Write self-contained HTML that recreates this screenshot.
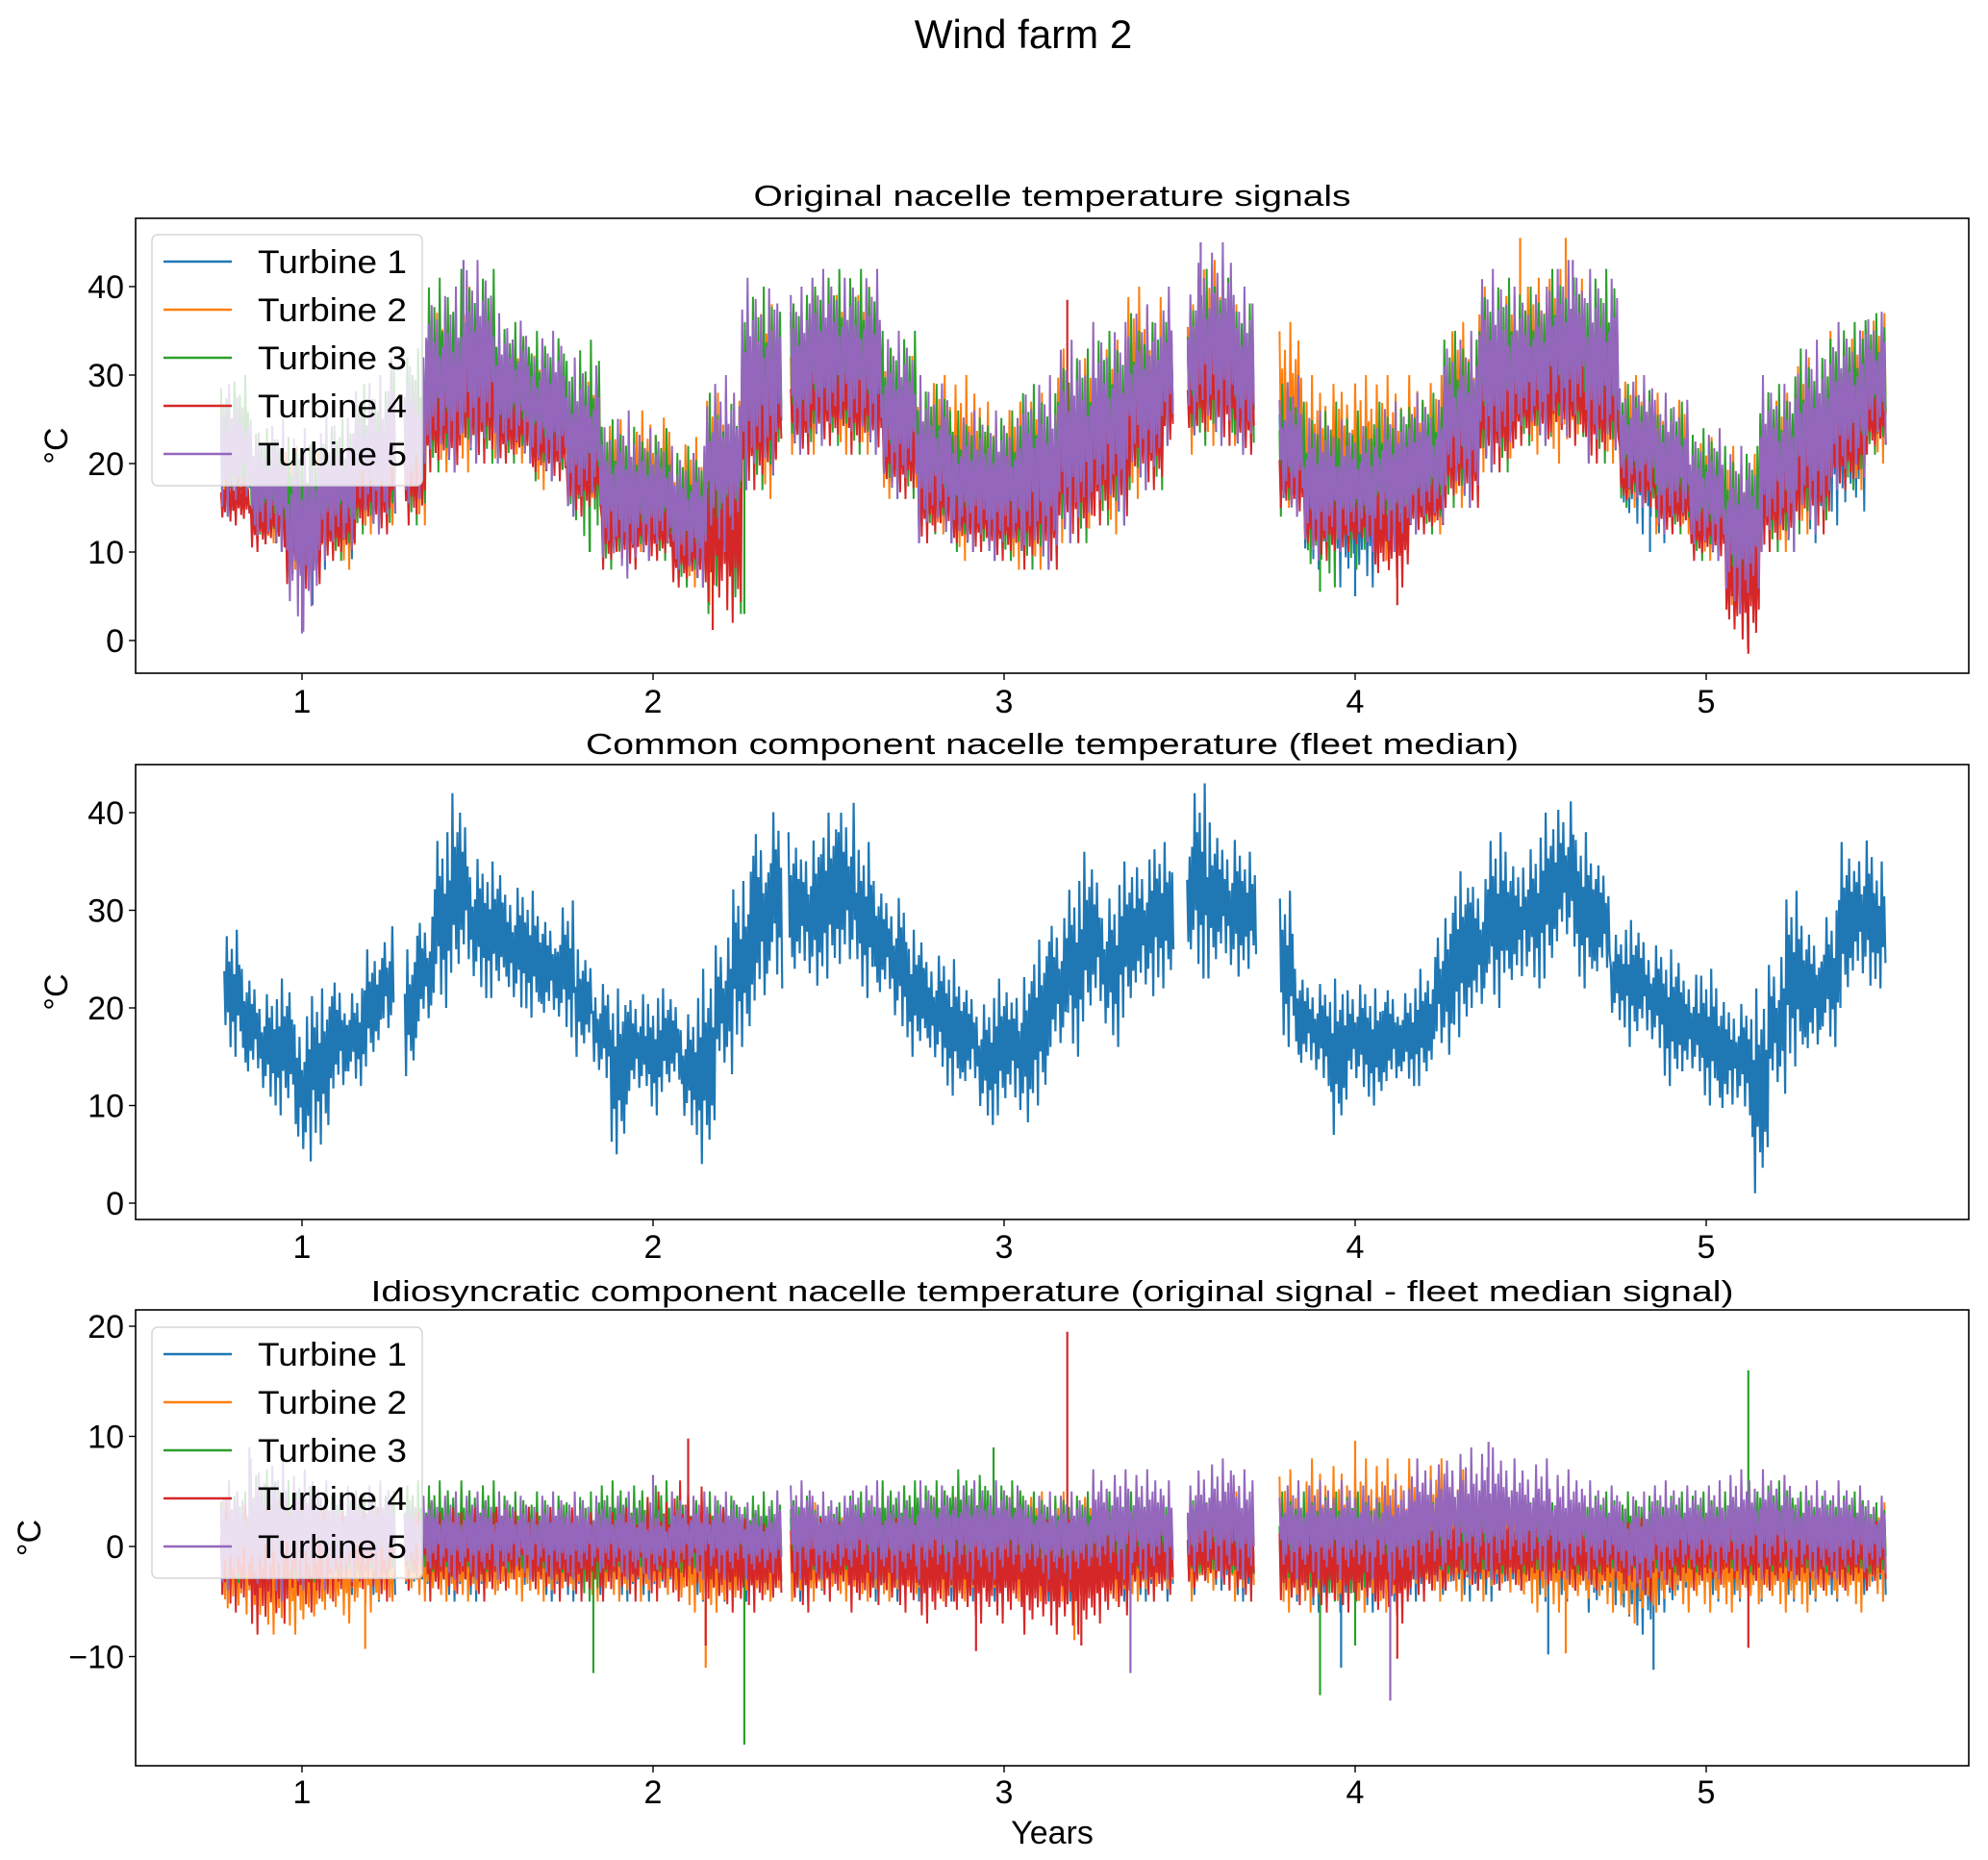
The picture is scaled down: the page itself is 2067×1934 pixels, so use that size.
<!DOCTYPE html>
<html><head><meta charset="utf-8"><style>
html,body{margin:0;padding:0;background:#fff;}
svg{display:block;font-family:"Liberation Sans","DejaVu Sans",sans-serif;}
</style></head><body>
<svg id="fig" width="2067" height="1934" viewBox="0 0 2067 1934" xmlns="http://www.w3.org/2000/svg">
<rect width="2067" height="1934" fill="#fff"/>
<text x="1064" y="50" font-size="42" text-anchor="middle">Wind farm 2</text>
<g id="p1"></g>
<g id="p2"></g>
<g id="p3"></g>
</svg>
<script>
// ---------- data ----------
const TIMES10 = [0.8,0.9,1.0,1.1,1.2,1.3,1.4,1.5,1.6,1.7,1.8,1.9,2.0,2.1,2.2,2.3,2.4,2.5,2.6,2.7,2.8,2.9,3.0,3.1,3.2,3.3,3.4,3.5,3.6,3.7,3.8,3.9,4.0,4.1,4.2,4.3,4.4,4.5,4.6,4.7,4.8,4.9,5.0,5.1,5.2,5.3,5.4,5.5];
const GAPS = [[1.262,1.29],[2.365,2.385],[3.48,3.52],[3.715,3.78]];
const DATA_START = 0.765, DATA_END = 5.51;
const SERIES_NAMES = ["Turbine 1","Turbine 2","Turbine 3","Turbine 4","Turbine 5"];
const COLORS = ["#1f77b4","#ff7f0e","#2ca02c","#d62728","#9467bd"];

// Panel 1: original signals
const orig1Hi = [27,23,22,24,28,31,38,40,35,33,30,24,22,20,28,39,38,40,40,33,28,24,24,28,32,34,36,38,43,38,28,24,23,25,26,33,40,38,41,40,28,26,22,20,28,32,34,36];
const orig1Lo = [14,10,5,8,12,13,19,20,20,18,14,8,9,6,9,17,21,22,21,16,11,10,9,8,11,13,17,22,22,21,14,8,6,10,12,15,19,22,23,20,12,11,9,4,10,11,13,21];
const orig2Hi = [27,22,22,22,25,30,38,40,34,33,30,25,26,23,28,38,38,40,40,33,30,30,27,28,33,34,40,38,43,38,36,30,30,30,30,36,40,41,42,38,30,28,23,22,28,32,35,37];
const orig2Lo = [14,11,8,8,12,13,19,19,20,17,15,10,10,6,10,16,21,21,21,16,12,9,8,8,11,12,16,21,22,22,15,10,11,9,12,15,19,21,20,20,15,12,9,4,10,12,17,20];
const orig3Hi = [30,24,23,25,29,33,41,42,36,35,34,25,24,22,28,40,40,42,42,35,29,26,26,29,33,35,37,39,42,39,29,27,26,27,28,35,41,40,42,42,29,27,24,22,29,33,36,37];
const orig3Lo = [15,11,7,9,12,13,19,20,20,18,10,8,9,6,3,17,21,22,21,16,12,10,9,8,11,13,17,22,22,21,14,6,8,10,12,15,19,22,23,20,15,12,9,4,10,12,17,21];
const orig4Hi = [19,17,16,17,21,23,30,33,28,26,23,17,16,14,21,31,30,32,32,26,21,18,18,21,25,27,29,31,35,31,22,18,17,19,19,26,31,32,34,32,22,19,16,14,21,25,27,29];
const orig4Lo = [13,10,5,9,12,13,19,20,20,18,14,8,9,6,2,17,21,22,21,16,11,10,9,8,11,13,17,22,22,21,14,9,10,6,12,15,19,22,22,20,15,12,9,-1,10,12,17,21];
const orig5Hi = [29,25,24,26,30,33,40,43,37,35,32,26,24,22,30,41,40,42,42,35,30,26,26,30,34,36,38,40,45,40,30,26,25,27,28,35,42,40,43,42,30,28,24,22,30,34,36,38];
const orig5Lo = [14,10,1,9,12,13,19,20,20,18,14,7,9,6,10,17,21,22,21,16,11,10,9,8,11,13,17,22,22,21,14,9,10,10,12,15,19,22,23,20,15,12,9,3,10,12,17,21];
const origHi = [orig1Hi,orig2Hi,orig3Hi,orig4Hi,orig5Hi];
const origLo = [orig1Lo,orig2Lo,orig3Lo,orig4Lo,orig5Lo];
const origSpikeT = [[1.03,4.0,4.84],[4.47,4.6,2.16],[2.26,1.82,3.9],[3.18,5.12,2.17,4.12],[1.0,3.56,1.46,4.62]];
const origSpikeV = [[4,5,10],[45.5,45.5,4],[3,10,5.5],[38.5,-1.5,1.2,4],[0.8,45,43,43]];

// Panel 2: fleet median
const TIMES05 = [0.8,0.85,0.9,0.95,1.0,1.05,1.1,1.15,1.2,1.25,1.3,1.35,1.4,1.45,1.5,1.55,1.6,1.65,1.7,1.75,1.8,1.85,1.9,1.95,2.0,2.05,2.1,2.15,2.2,2.25,2.3,2.35,2.4,2.45,2.5,2.55,2.6,2.65,2.7,2.75,2.8,2.85,2.9,2.95,3.0,3.05,3.1,3.15,3.2,3.25,3.3,3.35,3.4,3.45,3.5,3.55,3.6,3.65,3.7,3.75,3.8,3.85,3.9,3.95,4.0,4.05,4.1,4.15,4.2,4.25,4.3,4.35,4.4,4.45,4.5,4.55,4.6,4.65,4.7,4.75,4.8,4.85,4.9,4.95,5.0,5.05,5.1,5.15,5.2,5.25,5.3,5.35,5.4,5.45,5.5];
const medHi = [28,24,22,23,20,22,24,22,26,29,26,30,38,42,36,35,33,32,30,31,26,23,22,22,21,22,20,24,28,33,40,41,38,38,40,42,37,33,32,28,26,25,23,21,23,24,27,30,33,36,32,35,36,37,38,43,39,38,36,32,32,24,23,23,23,22,23,22,24,30,34,34,38,36,37,40,42,38,36,28,29,27,26,24,24,22,21,22,26,32,29,30,37,38,35];
const medLo = [15,12,10,9,3,6,10,12,14,16,13,17,20,22,21,21,19,19,18,17,15,12,5,10,9,11,7,4,12,16,18,22,22,21,23,22,21,20,17,15,13,11,11,8,9,7,10,14,15,18,16,19,20,22,23,23,23,22,24,16,16,13,12,7,11,10,11,12,12,14,17,18,20,21,22,23,25,22,22,18,16,15,12,12,10,8,9,1,10,14,14,16,20,21,22];

// Panel 3: idiosyncratic component
const idio1Hi = [3,3,3,3,3,3,3,3,3,3,3,3,3,3,3,3,3,3,3,3,3,3,3,3,3,3,3,3,3,3,3,3,3,3,3,3,3,3,3,3,3,3,3,3,3,3,3,3];
const idio1Lo = [-5,-5,-5,-5,-5,-5,-5,-5,-4,-5,-5,-5,-5,-5,-5,-5,-5,-4,-5,-5,-5,-5,-5,-5,-5,-5,-5,-5,-4,-5,-5,-6,-6,-5,-5,-5,-5,-5,-5,-6,-8,-6,-5,-5,-5,-5,-5,-5];
const idio2Hi = [4,4,3,3,3,3,3,3,3,3,3,3,3,3,3,3,3,4,4,4,5,5,5,5,5,4,4,4,5,5,7,8,8,8,8,7,6,5,4,4,4,4,4,4,4,4,4,4];
const idio2Lo = [-7,-8,-8,-7,-6,-5,-5,-5,-5,-5,-5,-5,-5,-6,-6,-5,-5,-5,-5,-5,-5,-5,-5,-5,-5,-5,-5,-5,-4,-5,-6,-6,-6,-6,-5,-5,-5,-6,-6,-6,-7,-6,-6,-6,-6,-6,-6,-5];
const idio3Hi = [5,7,6,5,5,6,6,6,5,5,5,6,6,5,5,5,5,4,5,6,6,7,6,5,5,5,5,5,4,4,5,5,5,4,4,4,4,4,4,5,5,5,5,5,6,5,5,4];
const idio3Lo = [-4,-4,-4,-3,-3,-3,-3,-3,-3,-3,-5,-3,-3,-3,-3,-3,-3,-3,-3,-3,-3,-3,-3,-3,-3,-3,-3,-3,-3,-3,-4,-5,-5,-4,-3,-3,-3,-3,-3,-3,-3,-3,-3,-3,-3,-3,-3,-3];
const idio4Hi = [5,5,4,4,4,4,4,4,4,4,4,4,5,6,4,3,3,3,3,3,3,3,3,3,3,3,3,3,3,3,3,3,3,3,3,3,3,3,3,3,3,3,3,3,3,3,3,3];
const idio4Lo = [-6,-8,-6,-5,-5,-4,-5,-5,-4,-5,-5,-5,-5,-5,-6,-6,-6,-5,-6,-6,-7,-7,-7,-8,-8,-7,-5,-5,-4,-5,-6,-6,-6,-7,-5,-4,-4,-4,-4,-4,-5,-4,-4,-4,-4,-4,-4,-4];
const idio5Hi = [6,8,7,6,6,5,5,5,5,5,5,5,4,5,5,4,6,5,6,5,6,6,6,5,5,7,7,6,8,7,6,6,6,6,8,9,9,8,7,6,5,6,6,7,7,6,6,5];
const idio5Lo = [-4,-5,-4,-4,-3,-3,-3,-3,-3,-3,-3,-3,-3,-3,-3,-3,-3,-3,-3,-3,-3,-3,-3,-3,-3,-3,-3,-3,-3,-3,-3,-3,-3,-3,-3,-3,-3,-3,-3,-3,-4,-3,-3,-3,-3,-3,-3,-3];
const idioHi = [idio1Hi,idio2Hi,idio3Hi,idio4Hi,idio5Hi];
const idioLo = [idio1Lo,idio2Lo,idio3Lo,idio4Lo,idio5Lo];
const idioSpikeT = [[4.85,3.96,4.55],[4.0,2.15,1.18,4.6,3.2],[2.26,1.83,3.9,5.12,2.97,4.0],[3.18,2.1,2.15,2.92,3.22,4.12,5.12],[3.36,4.1,4.38,0.85,2.0]];
const idioSpikeV = [[-11.2,-11,-9.8],[9.6,-11,-9.3,-9.7,-8.5],[-18,-11.5,-13.5,16,9,-9],[19.5,9.8,-9,-9.5,-9,-10.2,-9.2],[-11.5,-14,9.5,9,6.5]];

const p1Ticks = [0,10,20,30,40];
const p2Ticks = [0,10,20,30,40];
const p3Ticks = [-10,0,10,20];
const xTicks = [1,2,3,4,5];

// ---------- layout ----------
const NS = "http://www.w3.org/2000/svg";
const AX_L = 141, AX_R = 2047;
const X0 = 314, XPY = 365;
const xs = t => X0 + (t - 1) * XPY;
const panels = [
  {g:'p1', top:227, bot:700, y0:666, ppu:9.2, title:"Original nacelle temperature signals", ty:214, tl:621, ticks:p1Ticks, ylx:58, xl:729},
  {g:'p2', top:795, bot:1268, y0:1251, ppu:10.15, title:"Common component nacelle temperature (fleet median)", ty:784, tl:970, ticks:p2Ticks, ylx:58, xl:1296},
  {g:'p3', top:1362, bot:1836, y0:1608, ppu:11.45, title:"Idiosyncratic component nacelle temperature (original signal - fleet median signal)", ty:1353, tl:1417, ticks:p3Ticks, ylx:30, xl:1863}
];
const UP = [0.35,0.9,0.5,0.7,0.3,1.0,0.45,0.6,0.8,0.4,0.65,0.25];
const DN = [0.5,0.3,0.85,0.45,1.0,0.35,0.6,0.75,0.4,0.55,0.2,0.7];

function mk(tag, attrs, parent){ const e=document.createElementNS(NS,tag); for(const k in attrs) e.setAttribute(k,attrs[k]); parent.appendChild(e); return e; }
function inGap(t){ for(const g of GAPS) if(t>g[0] && t<g[1]) return true; return t<DATA_START || t>DATA_END; }

function seriesPath(times, hi, lo, win, n, off, ys){
  let d='', pen=false;
  for(let i=0;i<times.length;i++){
    const c=(hi[i]+lo[i])/2;
    for(let j=0;j<n;j++){
      const t=times[i]-win/2+(j+0.5)*win/n;
      if(inGap(t)){ pen=false; continue; }
      const k=(j+off+i*5)%UP.length;
      const yu=ys(c+UP[k]*(hi[i]-c)), yd=ys(c-DN[k]*(c-lo[i]));
      const x1=xs(t), x2=xs(t+win/n/2);
      d += (pen?'L':'M') + x1.toFixed(1)+','+yu.toFixed(1)+'L'+x2.toFixed(1)+','+yd.toFixed(1);
      pen=true;
    }
  }
  return d;
}

panels.forEach((P, pi) => {
  const g = document.getElementById(P.g);
  const ys = v => P.y0 - v*P.ppu;
  const clipId='clip'+pi;
  const cp = mk('clipPath',{id:clipId},g);
  mk('rect',{x:AX_L,y:P.top,width:AX_R-AX_L,height:P.bot-P.top},cp);
  const plot = mk('g',{'clip-path':'url(#'+clipId+')'},g);
  
  

  if(pi===1){
    const p = mk('path',{d:seriesPath(TIMES05,medHi,medLo,0.05,7,0,ys),fill:'none',stroke:COLORS[0],'stroke-width':2.2,'stroke-linejoin':'miter'},plot);
    
    
  } else {
    const HI = pi===0?origHi:idioHi, LO = pi===0?origLo:idioLo;
    const ST = pi===0?origSpikeT:idioSpikeT, SV = pi===0?origSpikeV:idioSpikeV;
    for(let s=0;s<5;s++){
      const sg = mk('g',{},plot);
      
      
      mk('path',{d:seriesPath(TIMES10,HI[s],LO[s],0.1,13,s*3,ys),fill:'none',stroke:COLORS[s],'stroke-width':2},sg);
      for(let k=0;k<ST[s].length;k++){
        const t=ST[s][k], v=SV[s][k];
        const i=Math.max(0,Math.min(TIMES10.length-1,Math.round((t-0.8)/0.1)));
        const base=(HI[s][i]+LO[s][i])/2;
        const sp = mk('line',{x1:xs(t),x2:xs(t),y1:ys(base),y2:ys(v),stroke:COLORS[s],'stroke-width':2.2},sg);
        
        
      }
    }
  }
  const fr = mk('rect',{x:AX_L,y:P.top,width:AX_R-AX_L,height:P.bot-P.top,fill:'none',stroke:'#000','stroke-width':1.6},g);
  
  
  P.ticks.forEach(v=>{
    const y=ys(v);
    mk('line',{x1:AX_L-7,x2:AX_L,y1:y,y2:y,stroke:'#000','stroke-width':1.4},g);
    const tx = mk('text',{x:AX_L-12,y:y+12,'font-size':34,'text-anchor':'end'},g);
    tx.textContent = v<0 ? '\u2212'+Math.abs(v) : String(v);
    
    
  });
  xTicks.forEach(v=>{
    const x=xs(v);
    mk('line',{x1:x,x2:x,y1:P.bot,y2:P.bot+7,stroke:'#000','stroke-width':1.4},g);
    const tx = mk('text',{x:x,y:P.xl+12,'font-size':34,'text-anchor':'middle'},g);
    tx.textContent = String(v);
    
    
  });
  const tt = mk('text',{x:1094,y:P.ty,'font-size':31,'text-anchor':'middle',textLength:P.tl,lengthAdjust:'spacingAndGlyphs'},g);
  tt.textContent = P.title;
  
  
  const cy=(P.top+P.bot)/2;
  const yl = mk('text',{x:P.ylx,y:cy,'font-size':34,'text-anchor':'middle',transform:'rotate(-90 '+P.ylx+' '+cy+')',dy:12},g);
  yl.textContent = '°C';
  
  
  if(pi!==1){
    const lt = pi===0?244:1380;
    const lg = mk('g',{},g);
    
    
    mk('rect',{x:158,y:lt,width:281,height:261,rx:6,fill:'#fff','fill-opacity':0.8,stroke:'#d6d6d6','stroke-width':1.5},lg);
    for(let s=0;s<5;s++){
      const ey = lt+28+s*50;
      const le = mk('g',{},lg);
      
      
      mk('line',{x1:170,x2:241,y1:ey,y2:ey,stroke:COLORS[s],'stroke-width':2.5},le);
      const t = mk('text',{x:268,y:ey+12,'font-size':34,textLength:155,lengthAdjust:'spacingAndGlyphs'},le);
      t.textContent = SERIES_NAMES[s];
    }
  }
});
const svg=document.getElementById('fig');
const xl = mk('text',{x:1094,y:1917,'font-size':34,'text-anchor':'middle'},svg);
xl.textContent='Years';


</script>
</body></html>
